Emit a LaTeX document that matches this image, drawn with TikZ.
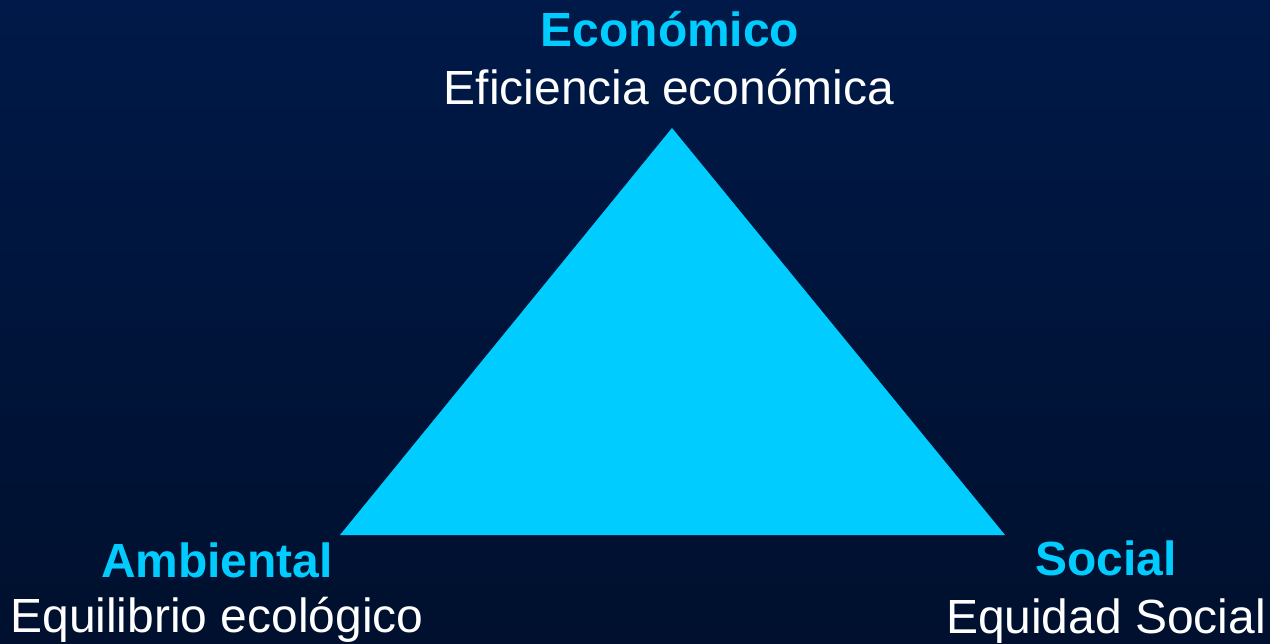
\documentclass[tikz,border=0pt]{standalone}
\usepackage{fontspec}
\setmainfont{Liberation Sans}
\usepackage{tikz}
\usetikzlibrary{positioning}

\definecolor{fondoarriba}{RGB}{0,25,72}
\definecolor{fondoabajo}{RGB}{0,16,46}
\definecolor{celeste}{RGB}{0,204,255}

\begin{document}
\begin{tikzpicture}[x=0.02cm, y=-0.02cm]

\tikzset{titulo/.style = {anchor=base, inner sep=0pt, text=celeste, font=\fontsize{27.3}{32}\selectfont\bfseries}}
\tikzset{lema/.style = {anchor=base, inner sep=0pt, text=white, font=\fontsize{27.3}{32}\selectfont}}
%fondo
\shade[top color=fondoarriba, bottom color=fondoabajo] (0,0) rectangle (1270,643);
\useasboundingbox (0,0) rectangle (1270,643);
%vertices
\coordinate (eco) at (672,128);
\coordinate (amb) at (340,535);
\coordinate (soc) at (1005,535);
\fill[celeste] (eco) -- (soc) -- (amb) -- cycle;
%textos
\node[titulo] (economico) at (670,46) {Económico};
\node[lema] (eficiencia) at (669,104) {Eficiencia económica};
\node[titulo] (ambiental) at (217,577) {Ambiental};
\node[lema] (equilibrio) at (217,632) {Equilibrio ecológico};
\node[titulo] (social) at (1106,575) {Social};
\node[lema] (equidad) at (1106,633) {Equidad Social};

\end{tikzpicture}
\end{document}
